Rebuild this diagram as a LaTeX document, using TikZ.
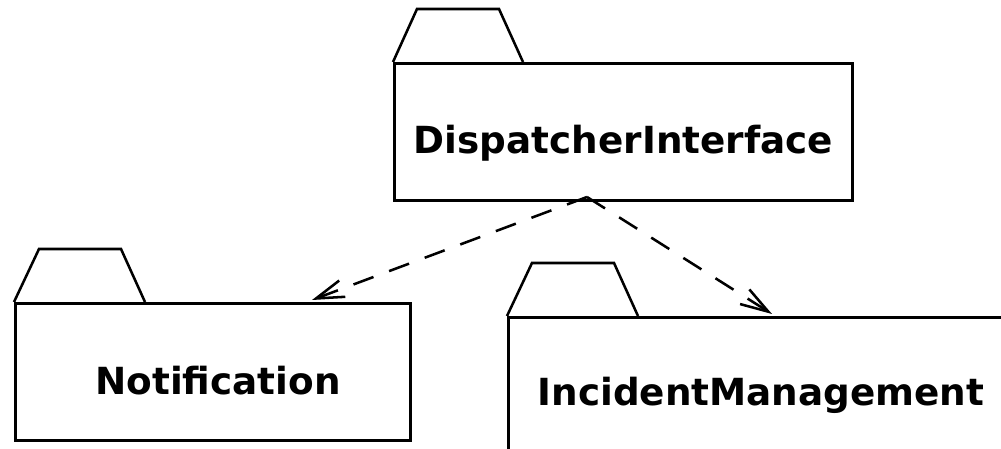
\documentclass[tikz,border=0pt]{standalone}
\usepackage{fontspec}
\setmainfont{DejaVu Sans}
\usetikzlibrary{arrows.meta}
\begin{document}
\begin{tikzpicture}[x=0.75pt,y=-0.75pt,
  pkg/.style={draw=black,line width=1.9pt,fill=white,line join=miter},
  pkgbody/.style={pkg,rectangle,inner sep=0pt,anchor=north west},
  pkgname/.style={font=\bfseries\fontsize{28}{32}\selectfont,anchor=base,inner sep=0pt},
  dep/.style={line width=1.9pt,dash pattern=on 16pt off 12.5pt,-{Straight Barb[length=21pt,width=13pt,line width=1.9pt]}}]
\useasboundingbox (0,0) rectangle (1001,449);
\clip (0,0) rectangle (1001,449);
% DispatcherInterface
\draw[pkg] (393,62) -- (417,9) -- (499,9) -- (523,62);
\node[pkgbody,minimum width=458*0.75pt,minimum height=137*0.75pt] (di) at (393,62) {};
\node[pkgname] (ditext) at (623.5,154) {DispatcherInterface};
% Notification
\draw[pkg] (14,302) -- (39,249) -- (121,249) -- (145,302);
\node[pkgbody,minimum width=395*0.75pt,minimum height=137*0.75pt] (nt) at (14,302) {};
\node[pkgname] (nttext) at (218,395) {Notification};
% IncidentManagement
\draw[pkg] (507,316) -- (532,263) -- (614,263) -- (638,316);
\node[pkgbody,minimum width=520*0.75pt,minimum height=150*0.75pt] (im) at (507,316) {};
\node[pkgname] (imtext) at (761,406) {IncidentManagement};
% dependencies
\coordinate (src) at (587,197);
\coordinate (ntin) at (312,300);
\coordinate (imin) at (772,314);
\draw[dep] (src) -- (ntin);
\draw[dep] (src) -- (imin);
\end{tikzpicture}
\end{document}
